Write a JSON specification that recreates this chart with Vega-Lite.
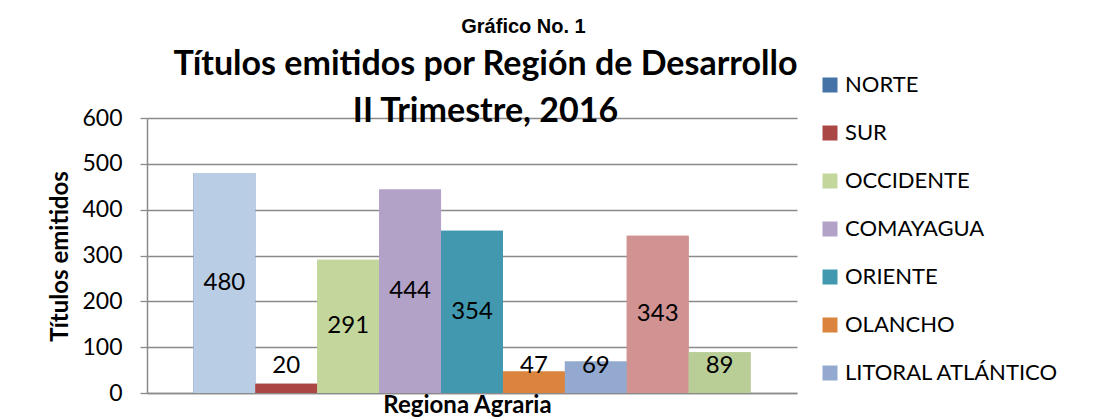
{
  "$schema": "https://vega.github.io/schema/vega-lite/v6.json",
  "width": 650,
  "height": 275,
  "autosize": {"type": "none"},
  "padding": {"left": 147, "top": 118, "right": 303, "bottom": 24},
  "background": "white",
  "config": {"view": {"stroke": null}, "font": "Lato"},
  "data": {
    "values": [
      {"region": "NORTE", "value": 480},
      {"region": "SUR", "value": 20},
      {"region": "OCCIDENTE", "value": 291},
      {"region": "COMAYAGUA", "value": 444},
      {"region": "ORIENTE", "value": 354},
      {"region": "OLANCHO", "value": 47},
      {"region": "LITORAL ATLÁNTICO", "value": 69},
      {"region": "AGUÁN", "value": 343},
      {"region": "EL PARAÍSO", "value": 89}
    ]
  },
  "layer": [
    {
      "mark": {"type": "bar", "strokeWidth": 0},
      "encoding": {
        "x": {
          "field": "region", "type": "nominal", "sort": null,
          "scale": {"type": "band", "paddingInner": 0, "paddingOuter": 0.75},
          "axis": {
            "orient": "bottom", "labels": false, "ticks": false, "grid": false,
            "domainColor": "#8a8a8a", "domainWidth": 1.5,
            "title": "Regiona Agraria", "titleFont": "Lato", "titleFontSize": 24, "titleFontWeight": "bold",
            "titleColor": "black", "titleX": 320, "titleY": 19, "titleAlign": "center", "titleBaseline": "alphabetic", "titleAnchor": null
          }
        },
        "y": {
          "field": "value", "type": "quantitative",
          "scale": {"domain": [0, 600], "nice": false},
          "axis": {
            "orient": "left", "values": [0, 100, 200, 300, 400, 500, 600],
            "grid": true, "gridColor": "#8a8a8a", "gridWidth": 1.3,
            "domainColor": "#8a8a8a", "domainWidth": 1.5,
            "tickColor": "#8a8a8a", "tickSize": 7, "tickWidth": 1.3,
            "labelFont": "Lato", "labelFontSize": 23, "labelColor": "black", "labelPadding": 18,
            "title": "Títulos emitidos", "titleFont": "Lato", "titleFontSize": 24, "titleFontWeight": "bold",
            "titleColor": "black", "titleAngle": -90, "titleX": -87, "titleY": 138,
            "titleAlign": "center", "titleBaseline": "middle", "titleAnchor": null
          }
        },
        "color": {
          "field": "region", "type": "nominal",
          "scale": {
            "domain": ["NORTE", "SUR", "OCCIDENTE", "COMAYAGUA", "ORIENTE", "OLANCHO", "LITORAL ATLÁNTICO", "AGUÁN", "EL PARAÍSO"],
            "range": ["#4572A7", "#AA4643", "#C3D69B", "#B3A2C7", "#4198AF", "#DB843D", "#93A9CF", "#D19392", "#B9CD96"]
          },
          "legend": {
            "values": ["NORTE", "SUR", "OCCIDENTE", "COMAYAGUA", "ORIENTE", "OLANCHO", "LITORAL ATLÁNTICO"],
            "orient": "none", "legendX": 672, "legendY": -44, "title": null, "padding": 0,
            "symbolType": "square", "symbolSize": 225, "symbolStrokeWidth": 0, "symbolOpacity": 1,
            "labelFont": "Lato", "labelFontSize": 22, "labelColor": "black", "labelOffset": 4, "labelLimit": 400,
            "rowPadding": 26
          }
        }
      }
    },
    {
      "mark": {"type": "bar", "strokeWidth": 0},
      "encoding": {
        "x": {
          "field": "region", "type": "nominal", "sort": null,
          "axis": {
            "orient": "top", "labels": false, "ticks": false, "grid": false, "domain": false,
            "title": ["Títulos emitidos por Región de Desarrollo", "II Trimestre, 2016"],
            "titleFont": "Lato", "titleFontSize": 34, "titleFontWeight": "bold", "titleColor": "black",
            "titleLineHeight": 47, "titleX": 338, "titleY": -44, "titleAlign": "center",
            "titleBaseline": "alphabetic", "titleAnchor": null
          }
        },
        "y": {
          "field": "value", "type": "quantitative",
          "axis": {
            "orient": "right", "labels": false, "ticks": false, "grid": false, "domain": false,
            "title": "Gráfico No. 1", "titleFont": "Liberation Sans", "titleFontSize": 20, "titleFontWeight": "bold",
            "titleColor": "black", "titleAngle": 0, "titleX": -274, "titleY": -86,
            "titleAlign": "center", "titleBaseline": "alphabetic", "titleAnchor": null
          }
        },
        "fill": {
          "field": "region", "type": "nominal",
          "scale": {
            "domain": ["NORTE", "SUR", "OCCIDENTE", "COMAYAGUA", "ORIENTE", "OLANCHO", "LITORAL ATLÁNTICO", "AGUÁN", "EL PARAÍSO"],
            "range": ["#B9CDE5", "#AA4643", "#C3D69B", "#B3A2C7", "#4198AF", "#DB843D", "#93A9CF", "#D19392", "#B9CD96"]
          },
          "legend": null
        }
      }
    },
    {
      "transform": [{"calculate": "max(datum.value / 2, 60)", "as": "labelY"}],
      "mark": {"type": "text", "font": "Lato", "fontSize": 24, "color": "black", "baseline": "middle"},
      "encoding": {
        "x": {"field": "region", "type": "nominal", "sort": null, "axis": null},
        "y": {"field": "labelY", "type": "quantitative", "axis": null},
        "text": {"field": "value", "type": "quantitative"}
      }
    }
  ]
}
